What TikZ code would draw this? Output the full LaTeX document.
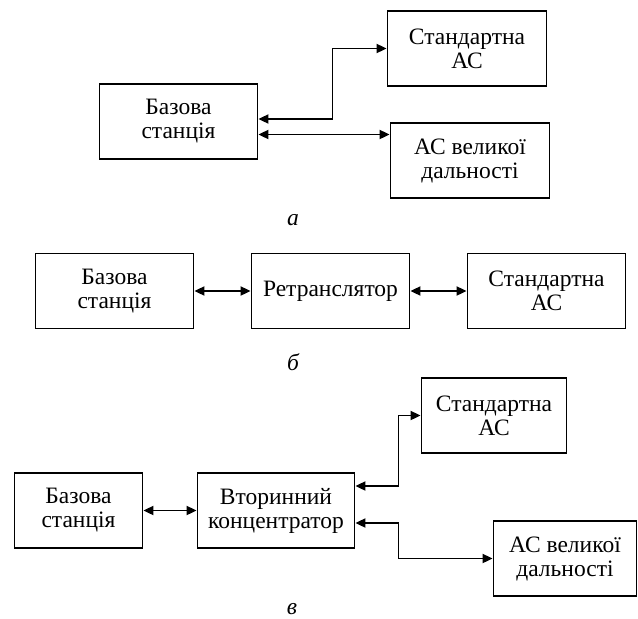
\documentclass[tikz,border=0pt]{standalone}
\usepackage{fontspec}
\setmainfont{Liberation Serif}
\usetikzlibrary{arrows.meta}

\begin{document}
\begin{tikzpicture}[x=1pt,y=-1pt,
	blok/.style={draw,line width=1.8pt,minimum height=75pt,align=center,inner sep=1pt,font=\fontsize{23.5}{24}\selectfont},
	link/.style={line width=1.8pt,{Stealth[inset=0pt,length=10pt,width=9pt]}-{Stealth[inset=0pt,length=10pt,width=9pt]}},
	mitka/.style={inner sep=0pt,font=\fontsize{23.5}{24}\selectfont\itshape}]
		\useasboundingbox(0,0)rectangle(638,619);
		\node[blok,minimum width=158pt](bsA)at(178.5,121.5){Базова\\станція};
		\node[blok,minimum width=159pt](stdA)at(467,48.5){Стандартна\\АС};
		\node[blok,minimum width=159pt](farA)at(470,160.5){АС великої\\дальності};
		\draw[link]([yshift=2.5pt]bsA.east)--++(74,0)|-(stdA.west);
		\draw[link]([yshift=-13pt]bsA.east)--([yshift=-13pt]bsA.east-|farA.west);
		\node[mitka](la)at(293,220){а};
		\node[blok,minimum width=158pt](bsB)at(114.5,291){Базова\\станція};
		\node[blok,minimum width=158pt](rtB)at(330.5,291){Ретранслятор};
		\node[blok,minimum width=158pt](stdB)at(546.5,291){Стандартна\\АС};
		\draw[link](bsB)--(rtB);
		\draw[link](rtB)--(stdB);
		\node[mitka](lb)at(293,362){б};
		\node[blok,minimum width=128pt](bsC)at(78.5,510.5){Базова\\станція};
		\node[blok,minimum width=157pt](vtC)at(276,510.5){Вторинний\\концентратор};
		\node[blok,minimum width=145pt](stdC)at(494,415.5){Стандартна\\АС};
		\node[blok,minimum width=143pt](farC)at(565,558.5){АС великої\\дальності};
		\draw[link](bsC)--(vtC);
		\draw[link]([yshift=24.5pt]vtC.east)--++(43,0)|-(stdC.west);
		\draw[link]([yshift=-12.5pt]vtC.east)--++(43,0)|-(farC.west);
		\node[mitka](lc)at(292,609){в};
		\end{tikzpicture}
\end{document}
